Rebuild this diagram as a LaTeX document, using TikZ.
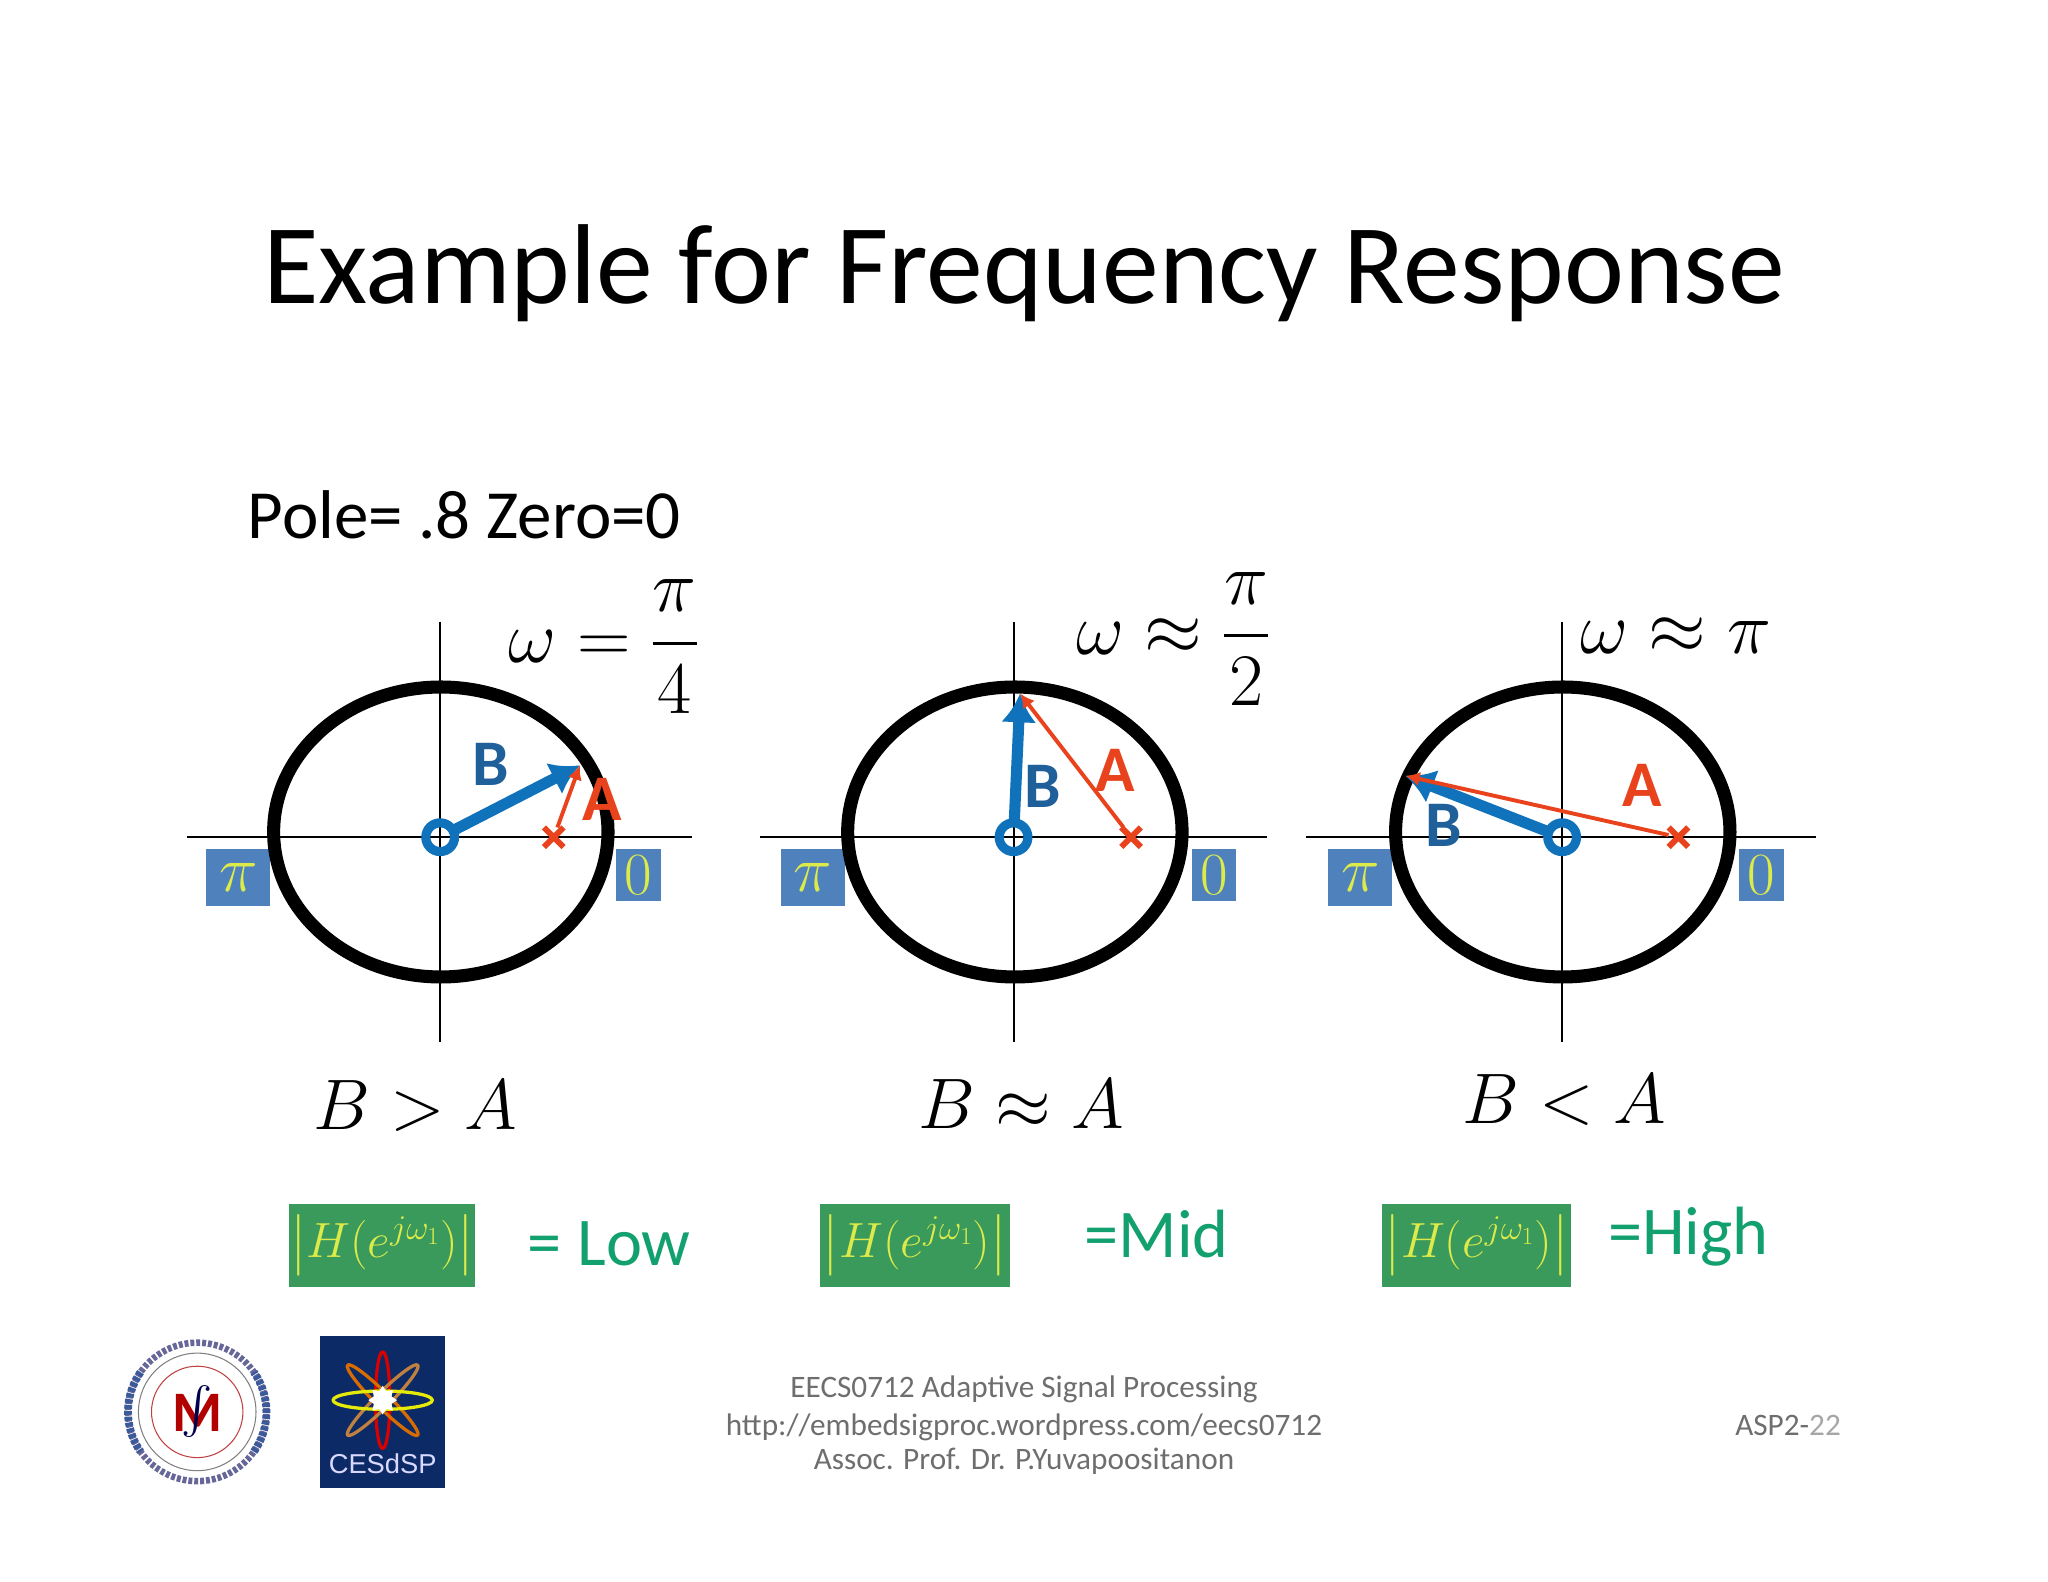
\documentclass[tikz,border=0pt]{standalone}
\usepackage{fix-cm}
\usepackage{amsmath}
\usepackage{amssymb}
\usepackage{fontspec}
\setmainfont{Carlito}
\usepackage{tikz}
\usetikzlibrary{arrows.meta}
\usetikzlibrary{shapes, shapes.misc, shapes.geometric}

\definecolor{boxblue}{HTML}{4F81BD}
\definecolor{boxgreen}{HTML}{3A9A5C}
\definecolor{lime}{HTML}{DDEB4A}
\definecolor{ringblue}{HTML}{0F72BA}
\definecolor{labelblue}{HTML}{1F5F9A}
\definecolor{polered}{HTML}{E9431E}
\definecolor{resultgreen}{HTML}{12A06E}
\definecolor{footgray}{HTML}{6E6E6E}
\definecolor{sealblue}{HTML}{3A5A9A}
\definecolor{navy}{HTML}{0B2A66}

\tikzset{
  unitcircle/.style={draw=black,line width=10bp,ellipse,minimum width=256bp,minimum height=222bp,outer sep=0pt,inner sep=0pt},
  axisline/.style={black,line width=1.6bp},
  zeroring/.style={circle,draw=ringblue,line width=7bp,minimum size=22bp,inner sep=0pt,outer sep=0pt},
  polecross/.style={cross out,draw=polered,line width=4.5bp,minimum size=15bp,inner sep=0pt,outer sep=0pt},
  blueline/.style={ringblue,line width=8.5bp,-{Latex[length=22bp,width=27bp]}},
  redline/.style={polered,line width=3bp,-{Latex[length=11bp,width=11bp]}},
  pibox/.style={fill=boxblue,text=lime,minimum width=49bp,minimum height=44bp,inner sep=0pt,font=\fontsize{50}{50}\selectfont},
  zerobox/.style={fill=boxblue,text=lime,minimum width=34bp,minimum height=40bp,inner sep=0pt,font=\fontsize{46}{46}\selectfont},
  hbox/.style={fill=boxgreen,text=lime,minimum height=63bp,inner sep=0pt,font=\fontsize{38}{38}\selectfont},
  mathbig/.style={inner sep=0pt,black,font=\fontsize{57}{57}\selectfont},
  mathcmp/.style={inner sep=0pt,black,font=\fontsize{55}{55}\selectfont},
  letterB/.style={inner sep=0pt,text=labelblue,font=\fontsize{50}{50}\bfseries\selectfont},
  letterA/.style={inner sep=0pt,text=polered,font=\fontsize{50}{50}\bfseries\selectfont},
  result/.style={inner sep=0pt,text=resultgreen,font=\fontsize{52.5}{52.5}\selectfont},
  footline/.style={inner sep=0pt,text=footgray,font=\fontsize{24}{24}\selectfont},
}

\begin{document}
\begin{tikzpicture}[>=latex,line join=bevel,]
\useasboundingbox (0bp,0bp) rectangle (1568bp,1211bp);
%%
\node (title) at (784bp,1002bp) [inner sep=0pt,font=\fontsize{87.3}{87.3}\selectfont] {Example for Frequency Response};
\node (polezero) at (355.5bp,817bp) [inner sep=0pt,font=\fontsize{53}{53}\selectfont] {Pole= .8 Zero=0};
%% left
\node (pibox_1) at (182.5bp,539bp) [pibox] {$\pi$};
\node (zerobox_1) at (489bp,541bp) [zerobox] {$0$};
\node (circle_1) at (337.5bp,574bp) [unitcircle] {};
\coordinate (west_1) at (143bp,570bp);
\coordinate (east_1) at (530bp,570bp);
\coordinate (north_1) at (337bp,735bp);
\coordinate (south_1) at (337bp,413bp);
\draw [axisline] (west_1) -- (east_1);
\draw [axisline] (north_1) -- (south_1);
\node (zero_1) at (337bp,570bp) [zeroring] {};
\node (pole_1) at (424bp,570bp) [polecross] {};
\coordinate (tip_1) at (444bp,625bp);
\draw [blueline] (zero_1) -- (tip_1);
\draw [redline] (pole_1) -- (tip_1);
\node (labelB_1) at (376bp,626bp) [letterB] {B};
\node (labelA_1) at (461bp,599bp) [letterA] {A};
\node (freq_1) at (462bp,716bp) [mathbig] {$\omega = \dfrac{\pi}{4}$};
\node (cmp_1) at (318bp,364bp) [mathcmp] {$B > A$};
\node (mag_1) at (292.5bp,257.5bp) [hbox,minimum width=143bp] {$\left|H(e^{j\omega_1})\right|$};
\node (res_1) at (466.5bp,259bp) [result] {= Low};
%% middle
\node (pibox_2) at (622.5bp,539bp) [pibox] {$\pi$};
\node (zerobox_2) at (929.5bp,541bp) [zerobox] {$0$};
\node (circle_2) at (777bp,574bp) [unitcircle] {};
\coordinate (west_2) at (582bp,570bp);
\coordinate (east_2) at (970bp,570bp);
\coordinate (north_2) at (776bp,735bp);
\coordinate (south_2) at (776bp,413bp);
\draw [axisline] (west_2) -- (east_2);
\draw [axisline] (north_2) -- (south_2);
\node (zero_2) at (776bp,570bp) [zeroring] {};
\node (pole_2) at (866bp,570bp) [polecross] {};
\coordinate (tip_2) at (781bp,680bp);
\draw [blueline] (zero_2) -- (tip_2);
\draw [redline] (pole_2) -- (tip_2);
\node (labelB_2) at (798bp,609bp) [letterB] {B};
\node (labelA_2) at (854bp,621bp) [letterA] {A};
\node (freq_2) at (898bp,722bp) [mathbig] {$\omega \approx \dfrac{\pi}{2}$};
\node (cmp_2) at (782bp,366bp) [mathcmp] {$B \approx A$};
\node (mag_2) at (700.5bp,257.5bp) [hbox,minimum width=145bp] {$\left|H(e^{j\omega_1})\right|$};
\node (res_2) at (885.5bp,266bp) [result] {=Mid};
%% right
\node (pibox_3) at (1041.5bp,539bp) [pibox] {$\pi$};
\node (zerobox_3) at (1348.5bp,541bp) [zerobox] {$0$};
\node (circle_3) at (1196.5bp,574bp) [unitcircle] {};
\coordinate (west_3) at (1000bp,570bp);
\coordinate (east_3) at (1390bp,570bp);
\coordinate (north_3) at (1196bp,735bp);
\coordinate (south_3) at (1196bp,413bp);
\draw [axisline] (west_3) -- (east_3);
\draw [axisline] (north_3) -- (south_3);
\node (zero_3) at (1196bp,570bp) [zeroring] {};
\node (pole_3) at (1285bp,570bp) [polecross] {};
\coordinate (tip_3) at (1076bp,617bp);
\draw [blueline] (zero_3) -- (tip_3);
\draw [redline] (pole_3) -- (tip_3);
\node (labelB_3) at (1105bp,579bp) [letterB] {B};
\node (labelA_3) at (1257bp,610bp) [letterA] {A};
\node (freq_3) at (1283bp,724bp) [mathbig] {$\omega \approx \pi$};
\node (cmp_3) at (1198bp,369bp) [mathcmp] {$B < A$};
\node (mag_3) at (1130.5bp,257.5bp) [hbox,minimum width=145bp] {$\left|H(e^{j\omega_1})\right|$};
\node (res_3) at (1292.5bp,264bp) [result] {=High};
%% seal
\node (seal) at (151bp,130bp) [circle,draw=gray!80!blue,line width=5bp,dash pattern=on 3bp off 1.5bp,minimum size=106bp,inner sep=0pt] {};
\draw [sealblue,line width=6bp,dash pattern=on 3bp off 1.5bp] (151bp,130bp) ++(-35:53bp) arc [start angle=-35,end angle=35,radius=53bp];
\draw [sealblue,line width=6bp,dash pattern=on 3bp off 1.5bp] (151bp,130bp) ++(145:53bp) arc [start angle=145,end angle=215,radius=53bp];
\node (sealring) at (151bp,130bp) [circle,draw=gray,line width=.8bp,minimum size=90bp,inner sep=0pt] {};
\node (sealinner) at (151bp,130bp) [circle,draw=red!50!gray,line width=.8bp,minimum size=70bp,inner sep=0pt] {};
\node (sealM) at (151bp,129bp) [inner sep=0pt,text=red!70!black,font=\fontsize{44}{44}\bfseries\selectfont] {M};
\node (sealint) at (151bp,130bp) [inner sep=0pt,text=black!70!blue,font=\fontsize{36}{36}\selectfont] {$\int$};
%% logo
\node (logo) at (293bp,130bp) [fill=navy,minimum width=96bp,minimum height=117bp,inner sep=0pt] {};
\draw [red!85!black,line width=2.5bp] (293bp,139bp) ellipse [x radius=5.5bp,y radius=37bp];
\draw [orange!85!black,line width=2.5bp,rotate around={45:(293bp,139bp)}] (293bp,139bp) ellipse [x radius=5.5bp,y radius=38bp];
\draw [brown,line width=2.5bp,rotate around={-45:(293bp,139bp)}] (293bp,139bp) ellipse [x radius=5.5bp,y radius=38bp];
\draw [yellow!90!green,line width=2.5bp] (293bp,139bp) ellipse [x radius=38bp,y radius=7bp];
\node (logostar) at (293bp,139bp) [star,star points=8,star point ratio=1.5,fill=white,minimum size=22bp,inner sep=0pt] {};
\node (logotext) at (293bp,90bp) [inner sep=0pt,text=white!85!blue,font=\fontsize{21}{21}\selectfont] {\fontspec{Liberation Sans}CESdSP};
%% footer
\node (foot_1) at (784bp,147bp) [footline] {EECS0712 Adaptive Signal Processing};
\node (foot_2) at (784bp,118bp) [footline] {http://embedsigproc.wordpress.com/eecs0712};
\node (foot_3) at (784bp,92bp) [footline] {Assoc. Prof. Dr. P.Yuvapoositanon};
\node (pagenum) at (1369bp,120bp) [footline] {ASP2-\textcolor{gray!70}{22}};
%
\end{tikzpicture}
\end{document}
